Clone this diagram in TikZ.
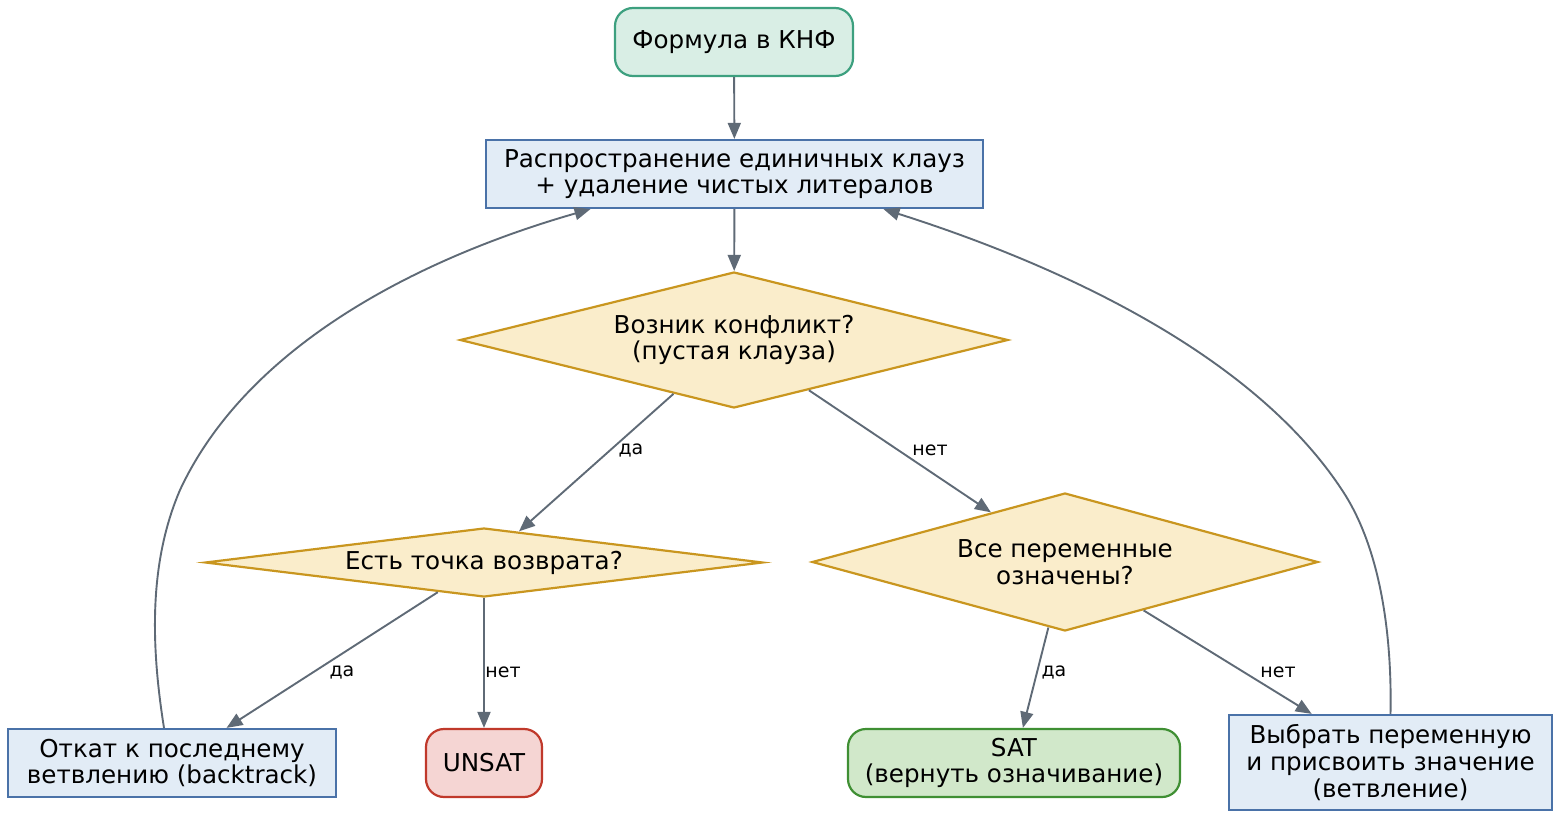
\documentclass[tikz,border=0pt]{standalone}
\usepackage{fontspec}
\setmainfont{DejaVu Sans}
\usetikzlibrary{shapes.geometric,arrows.meta,calc}
\definecolor{startfill}{HTML}{D9EEE5}
\definecolor{startdraw}{HTML}{3DA07F}
\definecolor{procfill}{HTML}{E2ECF6}
\definecolor{procdraw}{HTML}{4A72A8}
\definecolor{decfill}{HTML}{FAEDCB}
\definecolor{decdraw}{HTML}{C9961F}
\definecolor{unsatfill}{HTML}{F5D5D3}
\definecolor{unsatdraw}{HTML}{C0392B}
\definecolor{satfill}{HTML}{D1E8CA}
\definecolor{satdraw}{HTML}{3F8F33}
\definecolor{edgecol}{HTML}{5F6A76}
\tikzset{
  base/.style={font=\fontsize{12.3}{13.4}\selectfont, align=center, line width=1.1pt, inner sep=0pt},
  startbox/.style={base, rectangle, rounded corners=9pt, fill=startfill, draw=startdraw},
  procbox/.style={base, rectangle, fill=procfill, draw=procdraw},
  decbox/.style={base, diamond, fill=decfill, draw=decdraw},
  unsatbox/.style={base, rectangle, rounded corners=9pt, fill=unsatfill, draw=unsatdraw},
  satbox/.style={base, rectangle, rounded corners=9pt, fill=satfill, draw=satdraw},
  edge/.style={draw=edgecol, line width=0.95pt, -{Triangle[length=8pt,width=6.5pt]}},
  lbl/.style={font=\fontsize{9.5}{11}\selectfont, text=black, inner sep=0pt}
}
\begin{document}
\begin{tikzpicture}[x=0.5pt,y=-0.5pt]
\useasboundingbox (0,0) rectangle (1560,819);
\node[startbox, minimum width=119pt, minimum height=34pt] (start) at (734,42) {Формула в КНФ};
\node[procbox, minimum width=248.5pt, minimum height=34pt] (prop) at (734.5,174) {Распространение единичных клауз\\+ удаление чистых литералов};
\node[decbox, minimum width=274pt, minimum height=68pt, aspect=4.03] (conf) at (734,340) {Возник конфликт?\\(пустая клауза)};
\node[decbox, minimum width=279pt, minimum height=34.5pt, aspect=8.1] (bq) at (484,562.5) {Есть точка возврата?};
\node[decbox, minimum width=253pt, minimum height=69pt, aspect=3.67] (all) at (1065,562) {Все переменные\\означены?};
\node[procbox, minimum width=164pt, minimum height=34pt] (back) at (172,763) {Откат к последнему\\ветвлению (backtrack)};
\node[unsatbox, minimum width=58pt, minimum height=34pt] (unsat) at (484,763) {UNSAT};
\node[satbox, minimum width=166pt, minimum height=34pt] (sat) at (1014,763) {SAT\\(вернуть означивание)};
\node[procbox, minimum width=161.5pt, minimum height=47.5pt] (choose) at (1390.5,762.5) {Выбрать переменную\\и присвоить значение\\(ветвление)};

\draw[edge] (start) -- (prop);
\draw[edge] (prop) -- (conf);
\draw[edge] (conf) -- (bq) node[lbl] at (631,450) {да};
\draw[edge] (conf) -- (all) node[lbl] at (930,450) {нет};
\draw[edge] (bq) -- (back) node[lbl] at (342,672) {да};
\draw[edge] (bq) -- (unsat) node[lbl] at (503,672) {нет};
\draw[edge] (all) -- (sat) node[lbl] at (1054,672) {да};
\draw[edge] (all) -- (choose) node[lbl] at (1278,672) {нет};
\draw[edge] ($(back.north)+(-8,0)$) .. controls (150,640) and (150,560) .. (180,490) .. controls (250,340) and (430,255) .. ($(prop.south)+(-144,0)$);
\draw[edge] (choose.north) .. controls (1392,640) and (1382,550) .. (1342,490) .. controls (1250,350) and (1050,262) .. ($(prop.south)+(149,0)$);
\end{tikzpicture}
\end{document}
